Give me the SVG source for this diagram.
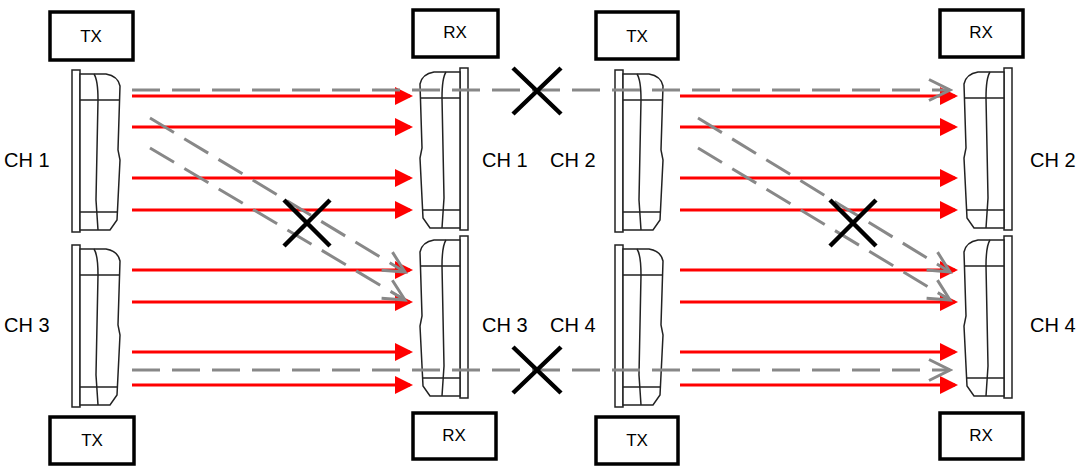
<svg xmlns="http://www.w3.org/2000/svg" width="1091" height="469" viewBox="0 0 1091 469">
<style>
.box{fill:#fff;stroke:#000;stroke-width:3.5}
.t{font-family:"Liberation Sans",Arial,sans-serif;font-size:17px;fill:#000}
.lbl{font-family:"Liberation Sans",Arial,sans-serif;font-size:20px;fill:#000}
.red{stroke:#f00;stroke-width:3;fill:none;marker-end:url(#ra)}
.gray{stroke:#888;stroke-width:3;fill:none;stroke-dasharray:28,12;marker-end:url(#ga)}
.dev{fill:#fff;stroke:#222;stroke-width:1.5}
.x{stroke:#000;stroke-width:4.5}
</style>
<defs>
<marker id="ra" markerWidth="6" markerHeight="6" refX="5" refY="3" orient="auto" markerUnits="strokeWidth"><path d="M0,0 L6,3 L0,6z" fill="#f00"/></marker>
<marker id="ga" markerWidth="9" markerHeight="9" refX="8" refY="4.5" orient="auto" markerUnits="strokeWidth"><path d="M1,1 L8,4.5 L1,8" fill="none" stroke="#888" stroke-width="1"/></marker>
<g id="dev">
<rect class="dev" x="0" y="0" width="8" height="162"/>
<path class="dev" d="M8,4 L34,4 Q46,6 48,16 L46,80 L48,90 L45,150 L38,160 L8,160z"/>
<path class="dev" d="M22,4 Q26,10 26,30 L24,130 L26,160"/>
<path class="dev" d="M8,30 L48,30 M8,142 L46,142"/>
</g>
</defs>
<g id="devices">
<use href="#dev" x="72" y="70"/>
<use href="#dev" x="72" y="245"/>
<use href="#dev" x="615" y="70"/>
<use href="#dev" x="615" y="245"/>
<use href="#dev" transform="translate(468,68) scale(-1,1)"/>
<use href="#dev" transform="translate(468,236) scale(-1,1)"/>
<use href="#dev" transform="translate(1012,68) scale(-1,1)"/>
<use href="#dev" transform="translate(1012,236) scale(-1,1)"/>
</g>
<g id="connectors">
<path class="red" d="M132,96H410"/><path class="red" d="M132,127H410"/><path class="red" d="M132,178H410"/><path class="red" d="M132,210H410"/>
<path class="red" d="M132,270H410"/><path class="red" d="M132,302H410"/><path class="red" d="M132,352H410"/><path class="red" d="M132,385H410"/>
<path class="red" d="M680,96H955"/><path class="red" d="M680,127H955"/><path class="red" d="M680,178H955"/><path class="red" d="M680,210H955"/>
<path class="red" d="M680,270H955"/><path class="red" d="M680,302H955"/><path class="red" d="M680,352H955"/><path class="red" d="M680,385H955"/>
<path class="gray" d="M132,90H950"/>
<path class="gray" d="M132,370H950"/>
<path class="gray" d="M150,118L405,272"/>
<path class="gray" d="M150,148L405,300"/>
<path class="gray" d="M698,118L950,272"/>
<path class="gray" d="M698,148L950,300"/>
</g>
<g id="crosses">
<path class="x" d="M513,68L561,114M561,68L513,114"/>
<path class="x" d="M513,347L561,393M561,347L513,393"/>
<path class="x" d="M284,200L330,246M330,200L284,246"/>
<path class="x" d="M830,200L876,246M876,200L830,246"/>
</g>
<g id="n-tx1"><rect class="box" x="50" y="12" width="83" height="48"/><text class="t" x="91" y="42" text-anchor="middle">TX</text></g>
<g id="n-rx1"><rect class="box" x="413" y="10" width="85" height="47"/><text class="t" x="455" y="38" text-anchor="middle">RX</text></g>
<g id="n-tx2"><rect class="box" x="596" y="12" width="82" height="47"/><text class="t" x="637" y="42" text-anchor="middle">TX</text></g>
<g id="n-rx2"><rect class="box" x="940" y="10" width="83" height="47"/><text class="t" x="981" y="38" text-anchor="middle">RX</text></g>
<g id="n-tx3"><rect class="box" x="50" y="417" width="84" height="47"/><text class="t" x="92" y="446" text-anchor="middle">TX</text></g>
<g id="n-rx3"><rect class="box" x="413" y="413" width="83" height="46"/><text class="t" x="454" y="441" text-anchor="middle">RX</text></g>
<g id="n-tx4"><rect class="box" x="596" y="417" width="82" height="47"/><text class="t" x="637" y="446" text-anchor="middle">TX</text></g>
<g id="n-rx4"><rect class="box" x="940" y="413" width="83" height="46"/><text class="t" x="981" y="441" text-anchor="middle">RX</text></g>
<g id="labels">
<text class="lbl" x="4" y="167">CH 1</text>
<text class="lbl" x="482" y="167">CH 1</text>
<text class="lbl" x="550" y="167">CH 2</text>
<text class="lbl" x="1030" y="167">CH 2</text>
<text class="lbl" x="4" y="332">CH 3</text>
<text class="lbl" x="482" y="332">CH 3</text>
<text class="lbl" x="550" y="332">CH 4</text>
<text class="lbl" x="1030" y="332">CH 4</text>
</g>
</svg>
